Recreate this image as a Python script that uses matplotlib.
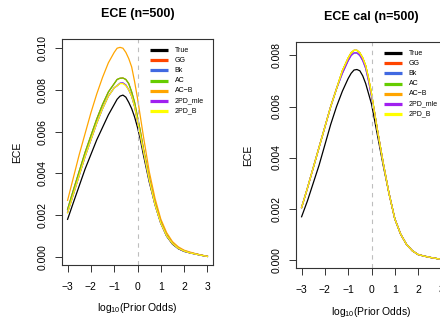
import matplotlib
matplotlib.use('Agg')
import numpy as np
import matplotlib.pyplot as plt

plt.rcParams['font.family'] = ['Liberation Sans', 'DejaVu Sans']

# prior log-odds grid (finer around the peak)
log_odds = [-3.0, -2.75, -2.5, -2.25, -2.0, -1.75, -1.5, -1.25,
            -1.0, -0.875, -0.75, -0.625, -0.5, -0.375, -0.25, -0.125, 0.0, 0.125, 0.25,
            0.5, 0.75, 1.0, 1.25, 1.5, 1.75, 2.0, 2.25, 2.5, 2.75, 3.0]

names = ['True', 'GG', 'Bk', 'AC', 'AC\u2212B', '2PD_mle', '2PD_B']
colors = ['#000000', '#FF4500', '#4169E1', '#66CD00', '#FFA500', '#A020F0', '#FFFF00']

# left panel: ECE (n=500)
ece_true = [0.00179, 0.0026, 0.0034, 0.0042, 0.0049, 0.0056, 0.0062, 0.0068,
            0.0073, 0.00755, 0.0077, 0.00775, 0.00765, 0.0074, 0.0071, 0.0067, 0.0062, 0.0056, 0.0049,
            0.0036, 0.0025, 0.0016, 0.00098, 0.0006, 0.00038, 0.00025, 0.00018, 0.00012, 0.00006, 0.00001]
ece_ac = [0.00227, 0.0032, 0.0041, 0.0050, 0.0058, 0.0066, 0.0073, 0.0079,
          0.0083, 0.0085, 0.00856, 0.00857, 0.0085, 0.0083, 0.0079, 0.0074, 0.0067, 0.0060, 0.0052,
          0.0038, 0.0026, 0.0017, 0.00105, 0.00066, 0.00042, 0.00028, 0.00019, 0.00013, 0.00007, 0.00001]
ece_acb = [0.0027, 0.0038, 0.0049, 0.0059, 0.0069, 0.0078, 0.0086, 0.0093,
           0.0098, 0.0100, 0.01004, 0.0100, 0.0098, 0.0095, 0.0091, 0.0084, 0.0076, 0.0067, 0.0058,
           0.0041, 0.0028, 0.0018, 0.00115, 0.00072, 0.00047, 0.00031, 0.00022, 0.00014, 0.00007, 0.00002]
ece_bk = [0.00212, 0.0030, 0.0039, 0.0048, 0.0056, 0.0064, 0.0071, 0.0077,
          0.0081, 0.0082, 0.00832, 0.00833, 0.00823, 0.0080, 0.0077, 0.0072, 0.0065, 0.0058, 0.0051,
          0.0037, 0.0025, 0.0016, 0.001, 0.00063, 0.0004, 0.00027, 0.00018, 0.00012, 0.00006, 0.00001]
ece_2pd = [0.0021, 0.0030, 0.0039, 0.0048, 0.0056, 0.0064, 0.0071, 0.0077,
           0.0081, 0.0082, 0.0083, 0.0083, 0.0082, 0.0080, 0.0077, 0.0072, 0.0065, 0.0058, 0.0051,
           0.0037, 0.0025, 0.0016, 0.001, 0.00063, 0.0004, 0.00027, 0.00018, 0.00012, 0.00006, 0.00001]

# right panel: ECE cal (n=500)
cal_true = [0.00168, 0.0023, 0.0030, 0.0037, 0.0045, 0.0053, 0.0060, 0.0066,
            0.0071, 0.0073, 0.00743, 0.00745, 0.0074, 0.0072, 0.0069, 0.0065, 0.0061, 0.0055, 0.0049,
            0.0037, 0.0026, 0.0016, 0.0010, 0.0006, 0.00035, 0.00020, 0.00014, 0.00009, 0.00005, 0.00001]
cal_fit = [0.00204, 0.0028, 0.0036, 0.0044, 0.0052, 0.0060, 0.0067, 0.0074,
           0.0079, 0.0081, 0.0082, 0.0082, 0.0081, 0.0079, 0.0076, 0.0071, 0.0065, 0.0058, 0.0051,
           0.0038, 0.0026, 0.0016, 0.0010, 0.0006, 0.00035, 0.00020, 0.00014, 0.00009, 0.00005, 0.00001]
cal_bk = [0.00204, 0.0028, 0.0036, 0.0044, 0.0052, 0.0060, 0.0067, 0.0073,
          0.0078, 0.0080, 0.0081, 0.0081, 0.0080, 0.0078, 0.0075, 0.0070, 0.0064, 0.0058, 0.0051,
          0.0038, 0.0026, 0.0016, 0.0010, 0.0006, 0.00035, 0.00020, 0.00014, 0.00009, 0.00005, 0.00001]

left_series = [ece_true, ece_ac, ece_bk, ece_ac, ece_acb, ece_bk, ece_2pd]
right_series = [cal_true, cal_fit, cal_bk, cal_fit, cal_fit, cal_bk, cal_fit]

xticks = [-3, -2, -1, 0, 1, 2, 3]


def panel(rect, series, title, yticks):
    ax = fig.add_axes(rect)
    for ys, c in zip(series, colors):
        ax.plot(log_odds, ys, color=c, lw=0.9, solid_joinstyle='round')
    ax.axvline(0, color='#BEBEBE', lw=0.8, ls=(0, (4, 4)))
    ymax = max(max(s) for s in series)
    ax.set_xlim(-3.24, 3.24)
    ax.set_ylim(-0.04 * ymax, 1.04 * ymax)
    ax.set_xticks(xticks)
    ax.set_xticklabels([str(t).replace('-', '\u2212') for t in xticks], fontsize=7.5)
    ax.set_yticks(yticks)
    ax.set_yticklabels(['%.3f' % t for t in yticks], fontsize=7.5, rotation=90, va='center')
    ax.tick_params(length=5, width=0.7, color='#333333', pad=5)
    ax.tick_params(axis='x', pad=7)
    for s in ax.spines.values():
        s.set_linewidth(0.8)
        s.set_color('#333333')
    ax.set_title(title, fontsize=9, fontweight='bold', pad=16)
    ax.set_xlabel(r'$\mathregular{log_{10}}$(Prior Odds)', fontsize=7.5)
    ax.set_ylabel('ECE', fontsize=7.5)
    ax.xaxis.label.set_va('center')
    ax.yaxis.label.set_va('center')
    # legend drawn R-style in the top right corner
    for i, (n, c) in enumerate(zip(names, colors)):
        y = 0.951 - i * 0.045
        ax.plot([0.583, 0.70], [y, y], color=c, lw=2.3, transform=ax.transAxes, solid_capstyle='butt')
        ax.text(0.746, y, n, fontsize=5, va='center', ha='left', transform=ax.transAxes)
    return ax


fig = plt.figure(figsize=(4.4, 3.2), dpi=100)
ax1 = panel([62 / 440, 1 - 265 / 320, 151 / 440, 226 / 320], left_series,
            'ECE (n=500)', [0.0, 0.002, 0.004, 0.006, 0.008, 0.010])
ax1.xaxis.set_label_coords(0.5, -0.19)
ax1.yaxis.set_label_coords(-0.298, 0.5)
ax2 = panel([296 / 440, 1 - 268 / 320, 151 / 440, 226 / 320], right_series,
            'ECE cal (n=500)', [0.0, 0.002, 0.004, 0.006, 0.008])
ax2.xaxis.set_label_coords(0.5, -0.193)
ax2.yaxis.set_label_coords(-0.318, 0.5)

fig.savefig('out.png', dpi=100)
